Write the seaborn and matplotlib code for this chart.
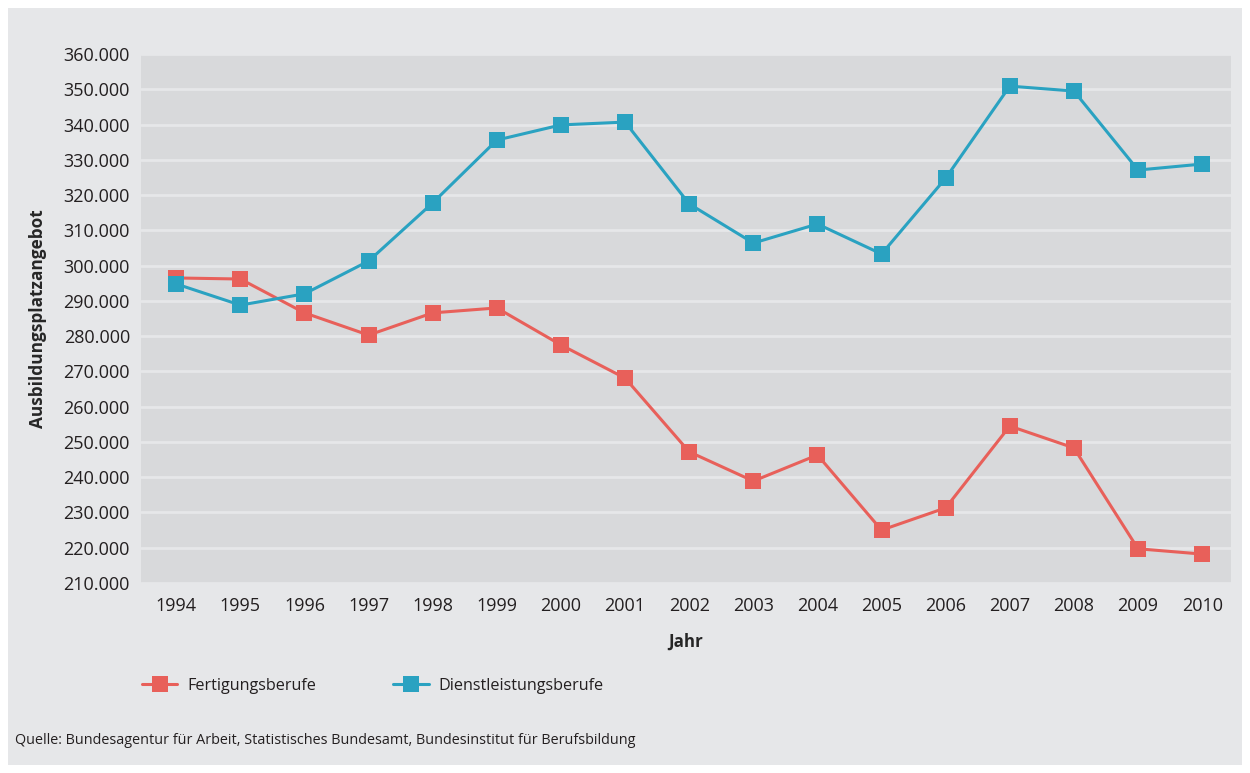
import numpy as np
import pandas as pd
import matplotlib
matplotlib.use('Agg')
import matplotlib.pyplot as plt
import matplotlib.ticker as mticker
from matplotlib.patches import Rectangle
import seaborn as sns

# Daten
jahre = list(range(1994, 2011))
fertigung = [296.5, 296.2, 286.6, 280.3, 286.6, 288.0, 277.5, 268.1, 247.2,
             238.9, 246.3, 225.0, 231.3, 254.5, 248.3, 219.7, 218.2]
dienstleistung = [294.8, 288.8, 292.0, 301.3, 317.8, 335.6, 339.9, 340.7, 317.5,
                  306.4, 311.8, 303.3, 324.8, 350.9, 349.5, 327.1, 328.8]
serien = ['Fertigungsberufe', 'Dienstleistungsberufe']
farben = ['#e8605a', '#2aa2c1']

df = pd.DataFrame({
    'Jahr': jahre * 2,
    'Wert': [v * 1000 for v in fertigung + dienstleistung],
    'Beruf': [serien[0]] * len(jahre) + [serien[1]] * len(jahre),
})

sns.set_style('darkgrid')
plt.rcParams['font.family'] = ['Open Sans', 'DejaVu Sans']
plt.rcParams['text.color'] = '#231f20'

fig = plt.figure(figsize=(12.5, 7.73), dpi=100, facecolor='white')
fig.patches.append(Rectangle((8 / 1250, 8 / 773), 1234 / 1250, 757 / 773,
                             transform=fig.transFigure, facecolor='#e6e7e9',
                             edgecolor='none', zorder=-10))
ax = fig.add_axes([0.1128, 0.2458, 0.8720, 0.6843])
ax.set_facecolor('#d8d9db')

sns.lineplot(data=df, x='Jahr', y='Wert', hue='Beruf', style='Beruf',
             palette=farben, markers=['s', 's'], dashes=False, linewidth=2.2,
             markersize=11.5, markeredgewidth=0, ax=ax, legend=False)

ax.set_xlim(1993.45, 2010.45)
ax.set_ylim(210000, 360000)
ax.set_xticks(jahre)
ax.set_yticks(np.arange(210000, 360001, 10000))
ax.yaxis.set_major_formatter(mticker.FuncFormatter(lambda v, p: f'{int(v):,}'.replace(',', '.')))
ax.grid(axis='x', visible=False)
ax.grid(axis='y', color='#e6e7e9', linewidth=2)
for s in ax.spines.values():
    s.set_visible(False)
ax.tick_params(axis='both', length=0, labelsize=13, labelcolor='#231f20')
ax.tick_params(axis='y', pad=8)
ax.tick_params(axis='x', pad=10)

ax.set_xlabel('Jahr', fontsize=12.2, fontweight='bold', labelpad=13)
ax.set_ylabel('Ausbildungsplatzangebot', fontsize=12.4, fontweight='bold', labelpad=12)

# Legende
handles = [plt.Line2D([], [], color=c, marker='s', markersize=11.5, linewidth=2.2,
                      markeredgewidth=0) for c in farben]
fig.legend(handles, serien, loc='center left', bbox_to_anchor=(0.102, 1 - 686 / 773),
           ncol=2, frameon=False, fontsize=11.6, handlelength=2.2, handletextpad=0.6,
           columnspacing=4.8)

fig.text(15 / 1250, 1 - 741 / 773,
         'Quelle: Bundesagentur für Arbeit, Statistisches Bundesamt, Bundesinstitut für Berufsbildung',
         fontsize=10.4, va='center', ha='left')

fig.savefig('out.png', dpi=100, facecolor='white')
